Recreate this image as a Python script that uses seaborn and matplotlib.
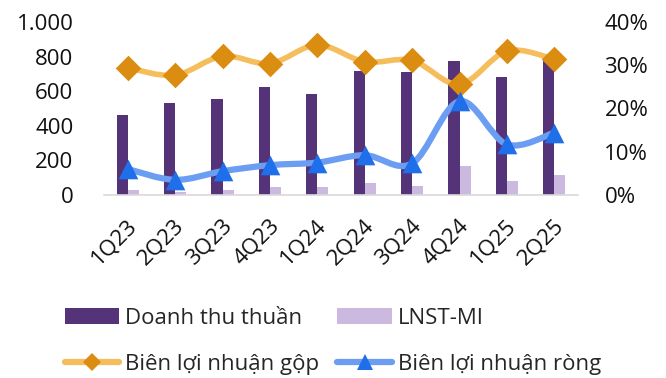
import numpy as np
import pandas as pd
import matplotlib
matplotlib.use("Agg")
import matplotlib.pyplot as plt
import matplotlib.transforms as mtransforms
from matplotlib.path import Path
from matplotlib.patches import PathPatch, Patch
from matplotlib.lines import Line2D
from matplotlib.ticker import FuncFormatter, MultipleLocator
import seaborn as sns

# Quarterly figures
quarters = ["1Q23", "2Q23", "3Q23", "4Q23", "1Q24", "2Q24", "3Q24", "4Q24", "1Q25", "2Q25"]
revenue = [462, 533, 557, 626, 585, 718, 709, 775, 680, 790]        # Doanh thu thuần
npat_mi = [27, 19, 29, 44, 44, 67, 54, 168, 79, 116]                # LNST-MI
gross_margin = [29.4, 27.7, 32.1, 30.4, 34.7, 30.8, 31.1, 25.6, 33.3, 31.4]  # %
net_margin = [6.0, 3.5, 5.5, 6.9, 7.5, 9.2, 7.3, 21.7, 11.7, 14.4]          # %

bar_names = ["Doanh thu thuần", "LNST-MI"]
line_names = ["Biên lợi nhuận gộp", "Biên lợi nhuận ròng"]

C_REV = "#553378"
C_NPAT = "#cbb9e0"
C_GM_LINE, C_GM_MARK = "#f5bd5c", "#db8d12"
C_NM_LINE, C_NM_MARK = "#6b9df2", "#1f6eea"

FS = 16

sns.set_theme(style="white")
plt.rcParams["font.family"] = ["Open Sans", "Noto Sans", "DejaVu Sans"]
plt.rcParams["font.size"] = FS

fig = plt.figure(figsize=(6.66, 3.78), dpi=100)
ax = fig.add_axes([104 / 666, 1 - 195 / 378, 474 / 666, 173 / 378])

df = pd.DataFrame({
    "quarter": quarters * 2,
    "value": revenue + npat_mi,
    "series": [bar_names[0]] * len(quarters) + [bar_names[1]] * len(quarters),
})
sns.barplot(data=df, x="quarter", y="value", hue="series", order=quarters,
            hue_order=bar_names, palette=[C_REV, C_NPAT], width=0.47, gap=0,
            saturation=1, linewidth=0, legend=False, ax=ax)

ax.set_xlim(-0.5, len(quarters) - 0.5)
ax.set_ylim(0, 1000)
ax.yaxis.set_major_locator(MultipleLocator(200))
ax.yaxis.set_major_formatter(FuncFormatter(lambda v, _: f"{v:,.0f}".replace(",", ".")))
ax.set_xlabel("")
ax.set_ylabel("")
for side in ["top", "right", "left"]:
    ax.spines[side].set_visible(False)
ax.spines["bottom"].set_color("#d9d9d9")
ax.spines["bottom"].set_linewidth(1.2)
ax.tick_params(axis="y", length=0, pad=22, labelsize=FS, colors="#111111")
ax.tick_params(axis="x", length=0, pad=20, labelsize=FS, colors="#111111")

offset = mtransforms.ScaledTranslation(6 / 100, 0, fig.dpi_scale_trans)
for lab in ax.get_xticklabels():
    lab.set_rotation(45)
    lab.set_ha("right")
    lab.set_va("center")
    lab.set_rotation_mode("anchor")
    lab.set_transform(lab.get_transform() + offset)

ax2 = ax.twinx()
ax2.set_ylim(0, 40)
ax2.yaxis.set_major_locator(MultipleLocator(10))
ax2.yaxis.set_major_formatter(FuncFormatter(lambda v, _: f"{v:.0f}%"))
for side in ["top", "right", "left", "bottom"]:
    ax2.spines[side].set_visible(False)
ax2.tick_params(axis="y", length=0, pad=19, labelsize=FS, colors="#111111")
ax2.grid(False)
ax.grid(False)


def smooth_path(xs, ys):
    """Cubic Bezier path through the points (Catmull-Rom style tangents)."""
    pts = np.column_stack([xs, ys]).astype(float)
    n = len(pts)
    verts = [pts[0]]
    codes = [Path.MOVETO]
    for i in range(n - 1):
        p_prev = pts[max(i - 1, 0)]
        p0, p1 = pts[i], pts[i + 1]
        p_next = pts[min(i + 2, n - 1)]
        c1 = p0 + (p1 - p_prev) / 6.0
        c2 = p1 - (p_next - p0) / 6.0
        verts += [c1, c2, p1]
        codes += [Path.CURVE4] * 3
    return Path(verts, codes)


xpos = np.arange(len(quarters))
series = [
    (gross_margin, C_GM_LINE, C_GM_MARK, "D", 170, 4.0),
    (net_margin, C_NM_LINE, C_NM_MARK, "^", 200, 4.5),
]
z = 3
for vals, lc, mc, mk, ms, lw in series:
    ax2.add_patch(PathPatch(smooth_path(xpos, vals), facecolor="none",
                            edgecolor=lc, linewidth=lw, capstyle="round",
                            joinstyle="round", zorder=z))
    sns.scatterplot(x=xpos, y=vals, marker=mk, s=ms, color=mc, linewidth=0,
                    zorder=z + 1, ax=ax2, legend=False)
    z += 2

handles = [
    Patch(facecolor=C_REV, edgecolor="none"),
    Line2D([], [], color=C_GM_LINE, lw=4.5, marker="D", markersize=9,
           markerfacecolor=C_GM_MARK, markeredgewidth=0, solid_capstyle="round"),
    Patch(facecolor=C_NPAT, edgecolor="none"),
    Line2D([], [], color=C_NM_LINE, lw=4.5, marker="^", markersize=11,
           markerfacecolor=C_NM_MARK, markeredgewidth=0, solid_capstyle="round"),
]
labels = [bar_names[0], line_names[0], bar_names[1], line_names[1]]
fig.legend(handles, labels, ncol=2, loc="center", bbox_to_anchor=(0.5, 0.097),
           frameon=False, fontsize=FS, handlelength=2.45, handleheight=0.7,
           handletextpad=0.28, columnspacing=0.8, labelspacing=1.15,
           borderaxespad=0, borderpad=0)

fig.savefig("out.png", dpi=100)
